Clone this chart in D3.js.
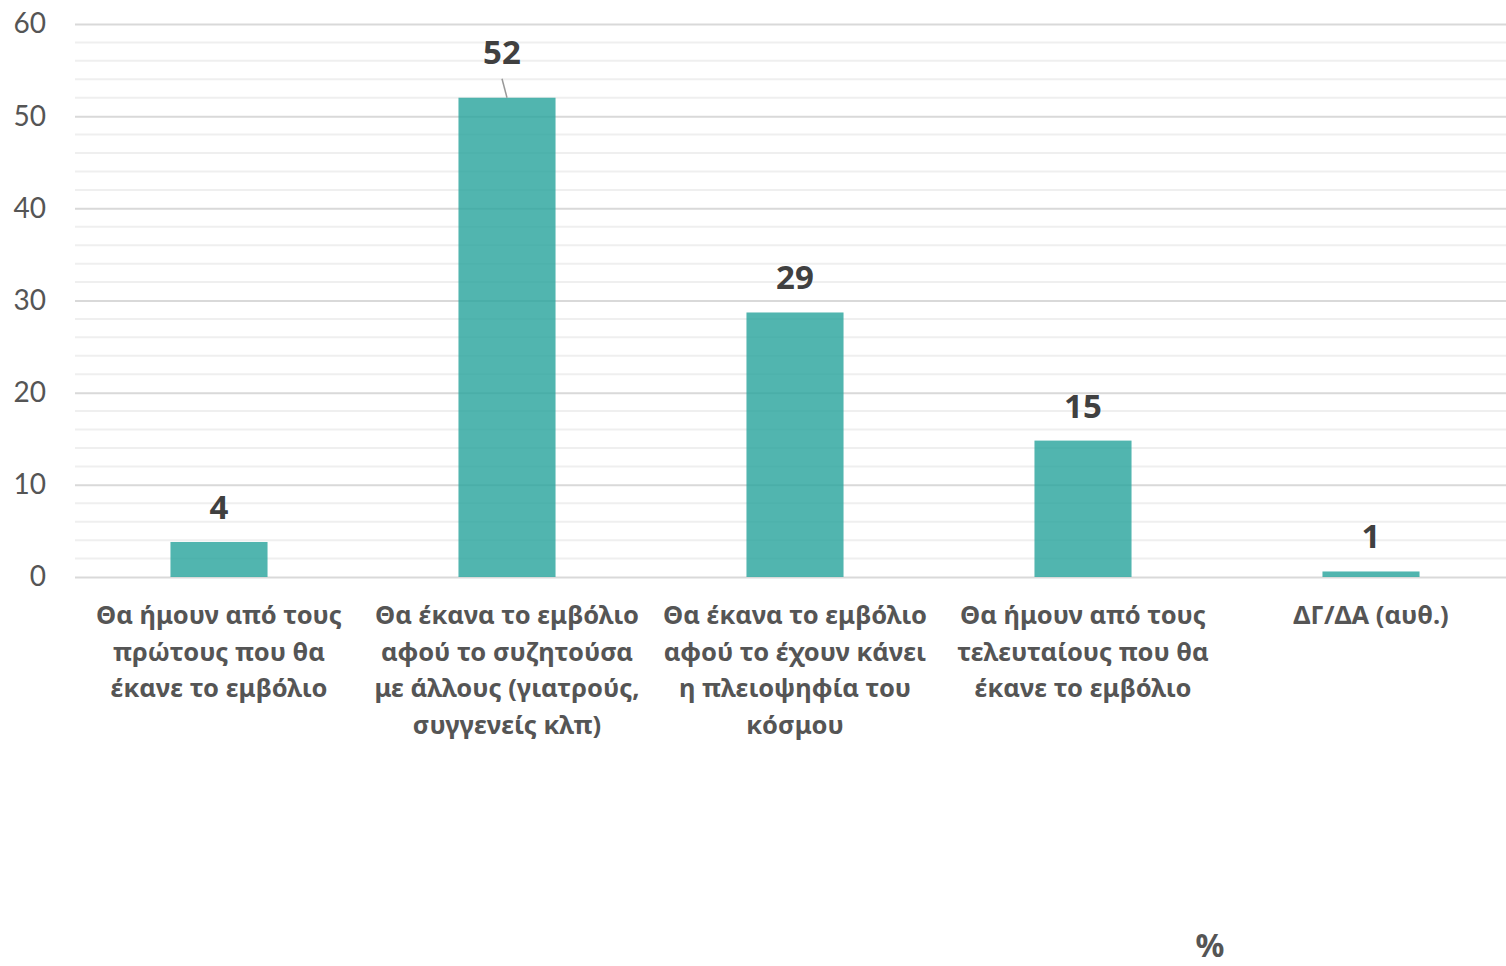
<!DOCTYPE html>
<html>
<head>
<meta charset="utf-8">
<script src="https://cdn.jsdelivr.net/npm/d3@7"></script>
<style>
  body { margin: 0; background: #fff; overflow: hidden; }
  svg { display: block; font-family: "Noto Sans", "Open Sans", sans-serif; }
</style>
</head>
<body>
<div id="chart"></div>
<script>
// Data
const categories = [
  ["Θα ήμουν από τους", "πρώτους που θα", "έκανε το εμβόλιο"],
  ["Θα έκανα το εμβόλιο", "αφού το συζητούσα", "με άλλους (γιατρούς,", "συγγενείς κλπ)"],
  ["Θα έκανα το εμβόλιο", "αφού το έχουν κάνει", "η πλειοψηφία του", "κόσμου"],
  ["Θα ήμουν από τους", "τελευταίους που θα", "έκανε το εμβόλιο"],
  ["ΔΓ/ΔΑ (αυθ.)"]
];
const values = [3.8, 52, 28.7, 14.8, 0.6];
const valueLabels = ["4", "52", "29", "15", "1"];
const yTicks = [0, 10, 20, 30, 40, 50, 60];
const unitLabel = "%";

(function() {

const W = 1506, H = 966;
const margin = { top: 24, left: 75 };
const plotW = 1440;            // band range runs a little past the right edge
const gridW = W - margin.left; // gridlines stop at the edge
const height = 577 - margin.top;

const svg = d3.select("#chart")
    .append("svg")
    .attr("width", W)
    .attr("height", H);

const g = svg.append("g")
    .attr("transform", `translate(${margin.left},${margin.top})`);

const x = d3.scaleBand()
    .domain(d3.range(categories.length))
    .range([0, plotW])
    .paddingInner(0.663)
    .paddingOuter(0.3315);

const y = d3.scaleLinear().domain([0, 60]).range([height, 0]);

// minor grid
g.append("g")
  .selectAll("line")
  .data(d3.range(0, 61, 2).filter(v => v % 10 !== 0))
  .join("line")
    .attr("x1", 0).attr("x2", gridW)
    .attr("y1", d => y(d)).attr("y2", d => y(d))
    .attr("stroke", "#efefef")
    .attr("stroke-width", 2);

// major grid + tick labels
const yAxis = g.append("g")
    .call(d3.axisLeft(y).tickValues(yTicks).tickSize(-gridW).tickPadding(29));
yAxis.select(".domain").remove();
yAxis.selectAll(".tick line").attr("stroke", "#d9d9d9").attr("stroke-width", 2);
yAxis.selectAll(".tick text")
    .attr("fill", "#555")
    .style("font-size", "28px")
    .style("font-family", "Lato, 'Noto Sans', sans-serif");

// bars
g.append("g")
  .selectAll("rect")
  .data(values)
  .join("rect")
    .attr("x", (d, i) => x(i))
    .attr("width", x.bandwidth())
    .attr("y", d => y(d))
    .attr("height", d => y(0) - y(d))
    .attr("fill", "rgb(43,165,158)")
    .attr("fill-opacity", 0.82);

// value labels
const labelY = (d, i) => i === 1 ? y(d) - 34 : y(d) - 23;
const labelX = (d, i) => x(i) + x.bandwidth() / 2 + (i === 1 ? -5 : 0);

g.append("g")
  .selectAll("text")
  .data(values)
  .join("text")
    .attr("x", labelX)
    .attr("y", labelY)
    .attr("text-anchor", "middle")
    .attr("fill", "#404040")
    .style("font-size", "33px")
    .style("font-weight", "bold")
    .text((d, i) => valueLabels[i]);

// leader line for the tallest bar
g.append("line")
    .attr("x1", labelX(values[1], 1))
    .attr("y1", y(values[1]) - 19)
    .attr("x2", x(1) + x.bandwidth() / 2)
    .attr("y2", y(values[1]))
    .attr("stroke", "#999")
    .attr("stroke-width", 1.5);

// category labels
const cat = g.append("g")
  .selectAll("text")
  .data(categories)
  .join("text")
    .attr("text-anchor", "middle")
    .attr("fill", "#555")
    .style("font-size", "25.5px")
    .style("font-weight", "bold")
    .attr("transform", (d, i) => `translate(${x(i) + x.bandwidth() / 2},${height + 47})`);

cat.selectAll("tspan")
  .data(d => d)
  .join("tspan")
    .attr("x", 0)
    .attr("y", (d, j) => j * 36.5)
    .text(d => d);

// unit
svg.append("text")
    .attr("x", 1210)
    .attr("y", 957)
    .attr("text-anchor", "middle")
    .attr("fill", "#555")
    .style("font-size", "32px")
    .style("font-weight", "bold")
    .text(unitLabel);

})();
</script>
</body>
</html>
